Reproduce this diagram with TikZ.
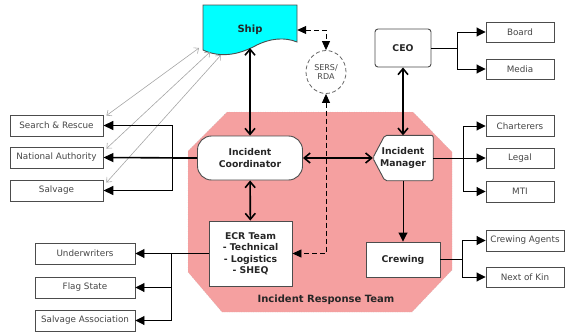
\documentclass[tikz,border=0pt]{standalone}
\usepackage{fontspec}
\setmainfont{DejaVu Sans}
\usetikzlibrary{arrows.meta,shapes.geometric,backgrounds}
\definecolor{irtpink}{RGB}{245,160,160}
\definecolor{shipcyan}{RGB}{0,255,255}
\definecolor{labelgray}{RGB}{70,70,70}

\begin{document}
\begin{tikzpicture}[x=1pt,y=-1pt,
  box/.style={draw=black!70,line width=0.9pt,fill=white,text=labelgray,
    font=\fontsize{8.8}{10}\selectfont,inner sep=1pt,minimum height=21pt},
  bold/.style={font=\fontsize{9.3}{11.5}\selectfont\bfseries,align=center,text=black!85},
  unit/.style={bold,draw=black!70,line width=0.9pt,fill=white},
  big/.style={<->,line width=1.6pt,>={Straight Barb[length=6pt,width=10pt]}},
  lead/.style={->,line width=1.6pt,>={Triangle[length=10pt,width=9pt]}},
  link/.style={->,line width=0.9pt,>={Triangle[length=9pt,width=9pt]}},
  dlink/.style={<->,line width=0.9pt,dash pattern=on 5pt off 3pt,>={Triangle[length=9pt,width=8pt]}},
  faint/.style={<->,black!35,line width=0.6pt,>={Straight Barb[length=4pt,width=7pt]}}]
\useasboundingbox (0,0) rectangle (565,332);

\begin{scope}[on background layer]
\fill[irtpink] (227,112) -- (413,112) -- (452,152) -- (452,270) -- (412,312)
  -- (222,312) -- (188,272) -- (188,151) -- cycle;
\draw[black!30,dotted] (227,112) -- (413,112) -- (452,152) -- (452,270) -- (412,312)
  -- (222,312) -- (188,272) -- (188,151) -- cycle;
\end{scope}

\draw[fill=shipcyan,draw=black!70,line width=0.9pt] (203,5) -- (297,5) -- (297,42)
  .. controls (285,37) and (270,38) .. (255,46)
  .. controls (238,55) and (220,58) .. (203,50) -- cycle;
\node[bold,font=\fontsize{10}{12}\selectfont\bfseries,minimum width=94pt,minimum height=40pt] (Ship) at (250,30) {Ship};
\coordinate (shipb) at (250,48);
\coordinate (s1) at (199,48);
\coordinate (s2) at (210,52);
\coordinate (s3) at (221,55);

\node[ellipse,draw=black!60,dash pattern=on 4pt off 2.5pt,line width=0.8pt,fill=white,
  minimum width=40pt,minimum height=43pt,inner sep=0pt,align=center,text=labelgray,
  font=\fontsize{8}{9.5}\selectfont] (SERS) at (326,72) {SERS/\\RDA};

\node[unit,rounded corners=3pt,minimum width=56pt,minimum height=38pt] (CEO) at (403,48) {CEO};
\node[unit,rounded corners=14pt,minimum width=105pt,minimum height=44pt] (IC) at (250,158) {Incident\\Coordinator};
\node[bold,minimum width=60pt,minimum height=45pt,inner sep=0pt] (IM) at (403,158) {Incident\\Manager};
\begin{scope}[on background layer]
\draw[fill=white,draw=black!70,line width=0.9pt,rounded corners=2pt] (IM.west)
  -- ([xshift=12pt]IM.north west) -- (IM.north east) -- (IM.south east)
  -- ([xshift=12pt]IM.south west) -- cycle;
\end{scope}
\node[unit,minimum width=83pt,minimum height=65pt,inner sep=1pt] (ECR) at (250.5,253.5) {ECR Team\\- Technical\\- Logistics\\- SHEQ};
\node[unit,minimum width=74pt,minimum height=35pt] (Crew) at (403,259.5) {Crewing};
\node[bold,font=\fontsize{10}{12}\selectfont\bfseries] (IRT) at (326,300) {Incident Response Team};

\node[box,minimum width=93pt] (SR) at (56.5,125.5) {Search \& Rescue};
\node[box,minimum width=93pt] (NA) at (56.5,157.5) {National Authority};
\node[box,minimum width=93pt] (SV) at (56.5,190.5) {Salvage};
\node[box,minimum width=100pt] (UW) at (85,253.5) {Underwriters};
\node[box,minimum width=100pt] (FS) at (85,287.5) {Flag State};
\node[box,minimum width=100pt] (SA) at (85,320.5) {Salvage Association};
\node[box,minimum width=68pt,minimum height=20pt] (Board) at (520,32) {Board};
\node[box,minimum width=68pt,minimum height=20pt] (Media) at (520,69) {Media};
\node[box,minimum width=68pt] (Chart) at (520,126) {Charterers};
\node[box,minimum width=68pt,minimum height=20pt] (Legal) at (520,158) {Legal};
\node[box,minimum width=68pt] (MTI) at (520,191.5) {MTI};
\node[box,minimum width=78pt] (CA) at (525,240.5) {Crewing Agents};
\node[box,minimum width=78pt,minimum height=20pt] (NK) at (525,277) {Next of Kin};

\draw[big] (shipb) -- (IC);
\draw[big] (IC) -- (ECR);
\draw[big] (IC) -- (IM);
\draw[big] (CEO) -- (IM);

\draw[dlink] (Ship.east) -| (SERS.north);
\draw[dlink] (SERS.south) |- (ECR.east);

\draw[faint] ([shift={(3pt,-1pt)}]SR.north east) -- (s1);
\draw[faint] ([shift={(3pt,-2pt)}]NA.north east) -- (s2);
\draw[faint] ([shift={(3pt,-3pt)}]SV.north east) -- (s3);

\draw[lead] (IC.west) -- (NA.east);
\draw[lead] (IC.west) -- ++(-24.5,0) |- (SR.east);
\draw[lead] (IC.west) -- ++(-24.5,0) |- (SV.east);

\draw[link] (ECR.west) -- (UW.east);
\draw[link] (ECR.west) -- ++(-37,0) |- (FS.east);
\draw[link] (ECR.west) -- ++(-37,0) |- (SA.east);

\draw[link] (CEO.east) -- ++(26,0) |- (Board.west);
\draw[link] (CEO.east) -- ++(26,0) |- (Media.west);

\draw[link] (IM.east) -- (Legal.west);
\draw[link] (IM.east) -- ++(30,0) |- (Chart.west);
\draw[link] (IM.east) -- ++(30,0) |- (MTI.west);

\draw[link] (IM) -- (Crew);
\draw[link] (Crew.east) -- ++(22,0) |- (CA.west);
\draw[link] (Crew.east) -- ++(22,0) |- (NK.west);
\end{tikzpicture}
\end{document}
